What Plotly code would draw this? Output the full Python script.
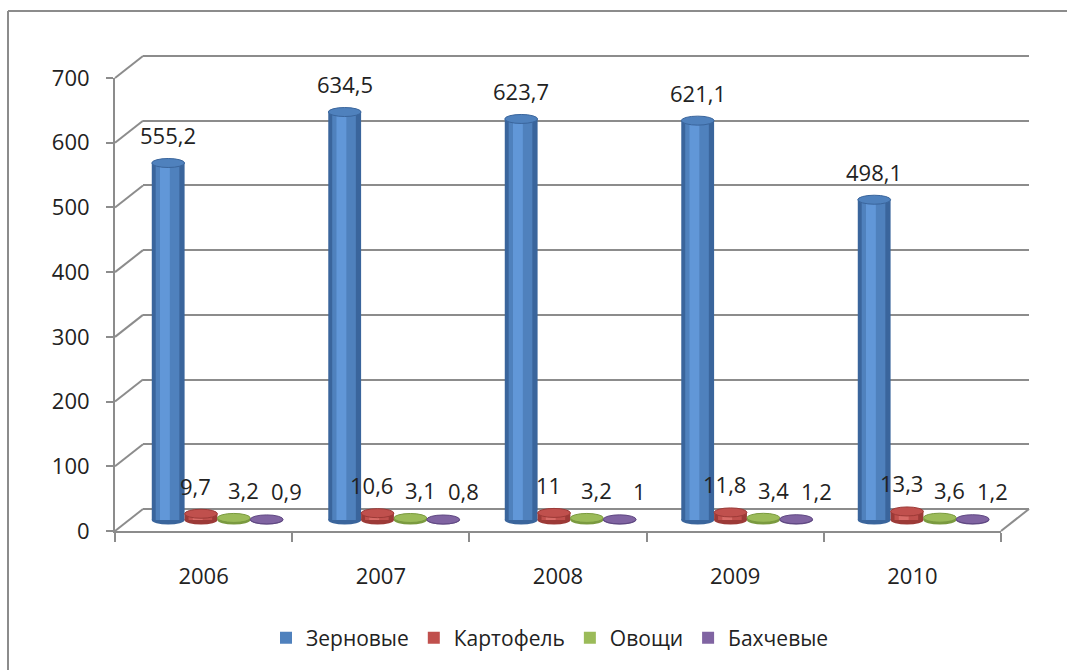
import plotly.graph_objects as go

# --- data ---
years = ['2006', '2007', '2008', '2009', '2010']
series_names = ['Зерновые', 'Картофель', 'Овощи', 'Бахчевые']
zernovye = [555.2, 634.5, 623.7, 621.1, 498.1]
kartofel = [9.7, 10.6, 11, 11.8, 13.3]
ovoschi = [3.2, 3.1, 3.2, 3.4, 3.6]
bahchevye = [0.9, 0.8, 1, 1.2, 1.2]
y_ticks = [0, 100, 200, 300, 400, 500, 600, 700]

all_values = [zernovye, kartofel, ovoschi, bahchevye]

# office 2007 palette + shading
colors = ['#4f81bd', '#c0504d', '#9bbb59', '#8064a2']
dark = ['#3a659c', '#9c3a37', '#7a9a3f', '#5f4882']
light = ['#6197d8', '#d86b67', '#b0cf70', '#977bb9']
label_xshift = [0, -6, 10, 20]  # excel puts the small labels a bit off-centre

W, H = 1067, 670
GRID = '#8c8c8c'
TXT = '#222222'
FONT = 'Open Sans, DejaVu Sans, sans-serif'


def px(x):
    return x / W


def py(y):
    return 1 - y / H


def fmt(v):
    return ('%g' % v).replace('.', ',')


# 3d-ish geometry in pixels: back wall and front axis
back_x0, back_x1 = 143, 1029
back_y0, back_y700 = 509, 56
front_x0, front_x1 = 115, 1001
front_y0, front_y700 = 531, 78
depth_scale = (front_y0 - front_y700) / 700

# bars subplot: 0 -> 520px, 0.643 px per unit
bar_base = 520
bar_scale = 0.643
bar_ymin, bar_ymax = -10, 700
bar_dom_bottom = bar_base - bar_ymin * bar_scale
bar_dom_top = bar_base - bar_ymax * bar_scale
bar_dom_left, bar_dom_right = 129, 129 + 5 * 176.5

bw = 0.186
offsets = [-0.371 + k * bw for k in range(4)]
xs = list(range(len(years)))

fig = go.Figure()

# invisible traces so every subplot exists
fig.add_trace(go.Scatter(x=[0, 1], y=[None, None], xaxis='x', yaxis='y',
                         showlegend=False, hoverinfo='skip'))
fig.add_trace(go.Scatter(x=years, y=[None] * len(years), xaxis='x3', yaxis='y3',
                         showlegend=False, hoverinfo='skip'))

# cylinders: dark outer, base colour middle, light highlight
for k, vals in enumerate(all_values):
    fig.add_trace(go.Bar(x=xs, y=vals, offset=offsets[k], width=bw, xaxis='x2', yaxis='y2',
                         marker=dict(color=dark[k], line=dict(width=0)),
                         showlegend=False, hoverinfo='skip'))
for k, vals in enumerate(all_values):
    off = offsets[k]
    fig.add_trace(go.Bar(x=xs, y=vals, offset=off + bw * 0.12, width=bw * 0.72,
                         xaxis='x2', yaxis='y2', name=series_names[k],
                         marker=dict(color=colors[k], line=dict(width=0))))
    fig.add_trace(go.Bar(x=xs, y=vals, offset=off + bw * 0.25, width=bw * 0.3,
                         xaxis='x2', yaxis='y2',
                         marker=dict(color=light[k], line=dict(width=0)),
                         showlegend=False, hoverinfo='skip'))

shapes = []
annotations = []
for k, vals in enumerate(all_values):
    off = offsets[k]
    for i, v in enumerate(vals):
        x0, x1 = i + off, i + off + bw
        # bottom of cylinder
        shapes.append(dict(type='circle', xref='x2', yref='y2', layer='below',
                           x0=x0, x1=x1, ysizemode='pixel', yanchor=0, y0=-4.5, y1=4.5,
                           fillcolor=dark[k], line=dict(width=0)))
        # top of cylinder
        shapes.append(dict(type='circle', xref='x2', yref='y2', layer='above',
                           x0=x0, x1=x1, ysizemode='pixel', yanchor=v, y0=-4.5, y1=4.5,
                           fillcolor=colors[k], line=dict(width=1, color=dark[k])))
        annotations.append(dict(xref='x2', yref='y2', x=(x0 + x1) / 2, y=v,
                                text=fmt(v), showarrow=False, yanchor='bottom',
                                yshift=11, xshift=label_xshift[k],
                                font=dict(size=22, color=TXT, family=FONT)))

# perspective connectors from front axis to back wall
for t in y_ticks:
    shapes.append(dict(type='line', xref='paper', yref='paper',
                       x0=px(front_x0), y0=py(front_y0 - t * depth_scale),
                       x1=px(back_x0), y1=py(back_y0 - t * depth_scale),
                       line=dict(color=GRID, width=2)))
shapes.append(dict(type='line', xref='paper', yref='paper',
                   x0=px(front_x1), y0=py(front_y0), x1=px(back_x1), y1=py(back_y0),
                   line=dict(color=GRID, width=2)))
# chart area border (only left and top fall inside the picture)
shapes.append(dict(type='line', xref='paper', yref='paper',
                   x0=px(8), y0=py(11), x1=px(8), y1=0,
                   line=dict(color=GRID, width=2)))
shapes.append(dict(type='line', xref='paper', yref='paper',
                   x0=px(8), y0=py(11), x1=1, y1=py(11),
                   line=dict(color=GRID, width=2)))

grid_pad = 6.0  # keep the 0 and 700 gridlines away from the range edges
fig.update_layout(
    width=W, height=H,
    margin=dict(l=0, r=0, t=0, b=0, autoexpand=False),
    paper_bgcolor='white',
    plot_bgcolor='rgba(0,0,0,0)',
    barmode='overlay',
    font=dict(family=FONT, size=22, color=TXT),
    shapes=shapes,
    annotations=annotations,
    # back wall grid
    xaxis=dict(domain=[px(back_x0), px(back_x1)], range=[0, 1], visible=False,
               anchor='y', automargin=False),
    yaxis=dict(domain=[py(back_y0 + grid_pad * depth_scale),
                       py(back_y700 - grid_pad * depth_scale)],
               range=[-grid_pad, 700 + grid_pad], tickvals=y_ticks,
               showgrid=True, gridcolor=GRID, gridwidth=2, zeroline=False,
               showticklabels=False, ticks='', showline=False, anchor='x',
               automargin=False),
    # bars
    xaxis2=dict(domain=[px(bar_dom_left), px(bar_dom_right)], range=[-0.5, 4.5],
                visible=False, anchor='y2', automargin=False),
    yaxis2=dict(domain=[py(bar_dom_bottom), py(bar_dom_top)],
                range=[bar_ymin, bar_ymax], visible=False, anchor='x2',
                automargin=False),
    # front axes
    xaxis3=dict(domain=[px(front_x0), px(front_x1)], type='category',
                range=[-0.5, 4.5], showline=True, linecolor=GRID, linewidth=2,
                ticks='outside', tickson='boundaries', ticklen=9, tickwidth=2,
                tickcolor=GRID, showgrid=False, ticklabelstandoff=25,
                tickfont=dict(size=22, color=TXT), anchor='y3', automargin=False),
    yaxis3=dict(domain=[py(front_y0), py(front_y700)], range=[0, 700],
                tickvals=y_ticks, showline=True, linecolor=GRID, linewidth=2,
                ticks='outside', ticklen=7, tickwidth=2, tickcolor=GRID,
                showgrid=False, zeroline=False, ticklabelstandoff=12,
                tickfont=dict(size=22, color=TXT), anchor='x3', automargin=False),
    legend=dict(orientation='h', x=px(550), xanchor='center', y=py(638),
                yanchor='middle', font=dict(size=21, color=TXT),
                bgcolor='rgba(0,0,0,0)'),
)

fig.write_html('out.html', config={'displayModeBar': False},
               post_script="document.body.style.margin='0';")
